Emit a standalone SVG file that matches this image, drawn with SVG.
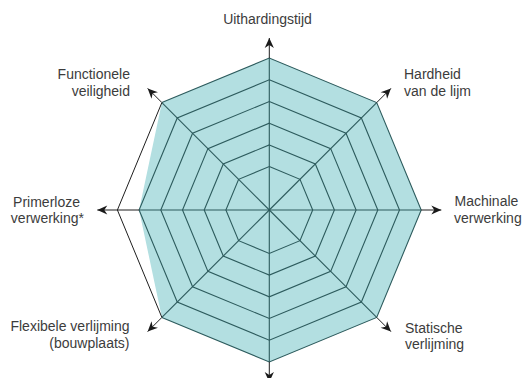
<svg xmlns="http://www.w3.org/2000/svg" width="525" height="378" viewBox="0 0 525 378">
  <defs>
    <marker id="arr" markerUnits="userSpaceOnUse" markerWidth="12" markerHeight="12" viewBox="-11 -6 12 12" refX="0" refY="0" orient="auto">
      <path d="M0,0 L-10,-4.6 L-7,0 L-10,4.6 Z" fill="#1a1a1a"/>
    </marker>
    <style>
      .ring { fill: none; stroke: #2d5b5d; stroke-width: 1.1; stroke-linejoin: miter; }
      .spoke { stroke: #2d5b5d; stroke-width: 1.1; }
      .axis { stroke: #1f1f1f; stroke-width: 1; fill: none; marker-end: url(#arr); }
      .edge { stroke: #1f1f1f; stroke-width: 1; fill: none; }
      .lbl { font-family: "Liberation Sans", Arial, sans-serif; font-size: 14px; fill: #3c3c3c; }
    </style>
  </defs>
  <rect width="525" height="378" fill="#ffffff"/>
  <g id="chart" transform="translate(269.3,210)">
    <polygon id="area" fill="#b3dfe1" points="0,-151.9 107.41,-107.41 151.9,0 107.41,107.41 0,151.9 -107.41,107.41 -130.2,0 -107.41,-107.41"/>
    <g id="rings">
      <polygon class="ring" points="0,-43.4 30.69,-30.69 43.4,0 30.69,30.69 0,43.4 -30.69,30.69 -43.4,0 -30.69,-30.69"/>
      <polygon class="ring" points="0,-65.1 46.03,-46.03 65.1,0 46.03,46.03 0,65.1 -46.03,46.03 -65.1,0 -46.03,-46.03"/>
      <polygon class="ring" points="0,-86.8 61.38,-61.38 86.8,0 61.38,61.38 0,86.8 -61.38,61.38 -86.8,0 -61.38,-61.38"/>
      <polygon class="ring" points="0,-108.5 76.72,-76.72 108.5,0 76.72,76.72 0,108.5 -76.72,76.72 -108.5,0 -76.72,-76.72"/>
      <polygon class="ring" points="0,-130.2 92.07,-92.07 130.2,0 92.07,92.07 0,130.2 -92.07,92.07 -130.2,0 -92.07,-92.07"/>
      <polyline class="ring" points="-107.41,107.41 0,151.9 107.41,107.41 151.9,0 107.41,-107.41 0,-151.9 -107.41,-107.41"/>
      <polyline class="edge" points="-107.41,-107.41 -151.9,0 -107.41,107.41"/>
    </g>
    <g id="spokes">
      <line class="spoke" x1="0" y1="0" x2="0" y2="-151.9"/>
      <line class="spoke" x1="0" y1="0" x2="107.41" y2="-107.41"/>
      <line class="spoke" x1="0" y1="0" x2="151.9" y2="0"/>
      <line class="spoke" x1="0" y1="0" x2="107.41" y2="107.41"/>
      <line class="spoke" x1="0" y1="0" x2="0" y2="151.9"/>
      <line class="spoke" x1="0" y1="0" x2="-107.41" y2="107.41"/>
      <line class="spoke" x1="0" y1="0" x2="-130.2" y2="0"/>
      <line class="spoke" x1="0" y1="0" x2="-107.41" y2="-107.41"/>
    </g>
    <g id="connectors">
      <line class="axis" x1="0" y1="-151.9" x2="0" y2="-172"/>
      <line class="axis" x1="107.41" y1="-107.41" x2="121.62" y2="-121.62"/>
      <line class="axis" x1="151.9" y1="0" x2="172" y2="0"/>
      <line class="axis" x1="107.41" y1="107.41" x2="121.62" y2="121.62"/>
      <line class="axis" x1="0" y1="151.9" x2="0" y2="172"/>
      <line class="axis" x1="-107.41" y1="107.41" x2="-121.62" y2="121.62"/>
      <line class="axis" x1="-130.2" y1="0" x2="-172" y2="0"/>
      <line class="axis" x1="-107.41" y1="-107.41" x2="-121.62" y2="-121.62"/>
    </g>
  </g>
  <g id="lbl-uithardingstijd"><text class="lbl" x="267.5" y="24" text-anchor="middle">Uithardingstijd</text></g>
  <g id="lbl-hardheid"><text class="lbl" x="404" y="79">Hardheid</text><text class="lbl" x="404" y="96">van de lijm</text></g>
  <g id="lbl-machinale"><text class="lbl" x="454.5" y="206">Machinale</text><text class="lbl" x="454" y="222.5">verwerking</text></g>
  <g id="lbl-statische"><text class="lbl" x="405" y="332.5">Statische</text><text class="lbl" x="405" y="349">verlijming</text></g>
  <g id="lbl-flexibele"><text class="lbl" x="129.5" y="331" text-anchor="end">Flexibele verlijming</text><text class="lbl" x="129.5" y="347.5" text-anchor="end">(bouwplaats)</text></g>
  <g id="lbl-primerloze"><text class="lbl" x="80" y="206.5" text-anchor="end">Primerloze</text><text class="lbl" x="84" y="222.5" text-anchor="end">verwerking*</text></g>
  <g id="lbl-functionele"><text class="lbl" x="130" y="78.5" text-anchor="end">Functionele</text><text class="lbl" x="130" y="95.5" text-anchor="end">veiligheid</text></g>
</svg>
